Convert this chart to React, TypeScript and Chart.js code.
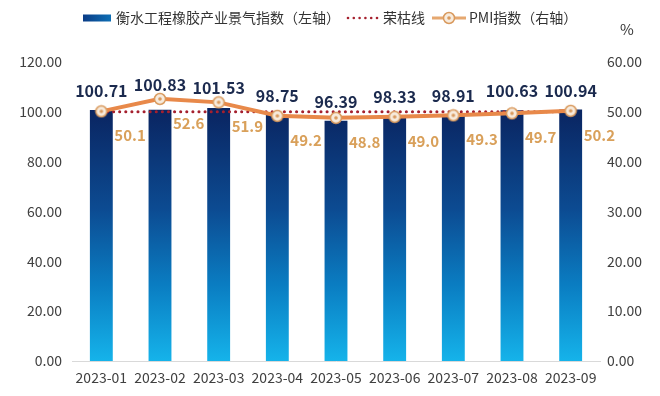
import React, { useEffect, useRef } from "react";
import { Chart, registerables } from "chart.js";

Chart.register(...registerables);

const categories = ["2023-01", "2023-02", "2023-03", "2023-04", "2023-05", "2023-06", "2023-07", "2023-08", "2023-09"];
const rubberIndex = [100.71, 100.83, 101.53, 98.75, 96.39, 98.33, 98.91, 100.63, 100.94];
const pmiIndex = [50.1, 52.6, 51.9, 49.2, 48.8, 49.0, 49.3, 49.7, 50.2];
const boomLine = [100, 100, 100, 100, 100, 100, 100, 100, 100];
const leftTicks = [0, 20, 40, 60, 80, 100, 120];
const rightTicks = [0, 10, 20, 30, 40, 50, 60];

const seriesNames = ["衡水工程橡胶产业景气指数（左轴）", "荣枯线", "PMI指数（右轴）"];
const unitLabel = "%";

const FONT = '"Noto Sans CJK SC", "Noto Sans", sans-serif';
const ORANGE = "#E8894A";
const LABEL_ORANGE = "#D9A05A";
const NAVY_TEXT = "#1B2A4E";
const DOT_RED = "#A5202E";
const TICK_COLOR = "#404040";

function makeMarker(): HTMLCanvasElement {
  const c = document.createElement("canvas");
  c.width = 14;
  c.height = 14;
  const g = c.getContext("2d")!;
  g.beginPath();
  g.arc(7, 7, 5.5, 0, Math.PI * 2);
  g.fillStyle = "#F7EBDD";
  g.fill();
  g.lineWidth = 1.5;
  g.strokeStyle = "#D99A5E";
  g.stroke();
  g.beginPath();
  g.arc(7, 7, 1.8, 0, Math.PI * 2);
  g.fillStyle = "#D99A5E";
  g.fill();
  return c;
}

function barGradient(ctx: CanvasRenderingContext2D, top: number, bottom: number) {
  const g = ctx.createLinearGradient(0, top, 0, bottom);
  g.addColorStop(0, "#0A2460");
  g.addColorStop(0.4, "#0C4B92");
  g.addColorStop(0.7, "#0A7DC2");
  g.addColorStop(1, "#15B3EA");
  return g;
}

const labelsPlugin = {
  id: "customLabels",
  afterDatasetsDraw(chart: any) {
    const ctx = chart.ctx;
    const barMeta = chart.getDatasetMeta(0);
    const pmiMeta = chart.getDatasetMeta(2);
    ctx.save();
    ctx.font = `bold 16px ${FONT}`;
    ctx.fillStyle = NAVY_TEXT;
    ctx.textAlign = "center";
    ctx.textBaseline = "middle";
    barMeta.data.forEach((el: any, i: number) => {
      const pt = pmiMeta.data[i];
      const yPos = Math.min(el.y - 19, pt.y - 14);
      ctx.fillText(rubberIndex[i].toFixed(2), el.x, yPos);
    });
    ctx.font = `bold 15px ${FONT}`;
    ctx.fillStyle = LABEL_ORANGE;
    ctx.textAlign = "left";
    pmiMeta.data.forEach((el: any, i: number) => {
      ctx.fillText(pmiIndex[i].toFixed(1), el.x + 13, el.y + 24);
    });
    ctx.restore();
  },
};

let marker: HTMLCanvasElement;

const legendPlugin = {
  id: "customLegend",
  afterDraw(chart: any) {
    const ctx = chart.ctx;
    ctx.save();
    const y = 18;
    const lg = ctx.createLinearGradient(83, 0, 111, 0);
    lg.addColorStop(0, "#0A3C86");
    lg.addColorStop(1, "#0E6FB5");
    ctx.fillStyle = lg;
    ctx.fillRect(83, y - 3.5, 28, 7);
    ctx.font = `14px ${FONT}`;
    ctx.fillStyle = "#333333";
    ctx.textBaseline = "middle";
    ctx.textAlign = "left";
    ctx.fillText(seriesNames[0], 116, y);
    ctx.fillStyle = DOT_RED;
    for (let k = 0; k < 6; k++) {
      ctx.beginPath();
      ctx.arc(348 + k * 5.8, y, 1.3, 0, Math.PI * 2);
      ctx.fill();
    }
    ctx.fillStyle = "#333333";
    ctx.fillText(seriesNames[1], 383, y);
    ctx.strokeStyle = "#E6A870";
    ctx.lineWidth = 3;
    ctx.beginPath();
    ctx.moveTo(432, y);
    ctx.lineTo(466, y);
    ctx.stroke();
    ctx.drawImage(marker, 449 - 7, y - 7);
    ctx.fillStyle = "#333333";
    ctx.fillText(seriesNames[2], 469, y);
    ctx.font = `15px ${FONT}`;
    ctx.textAlign = "center";
    ctx.fillText(unitLabel, 627, 29);
    ctx.restore();
  },
};

export default function App() {
  const ref = useRef<HTMLCanvasElement>(null);
  useEffect(() => {
    if (!ref.current) return;
    marker = makeMarker();
    const chart = new Chart(ref.current, {
      type: "bar",
      data: {
        labels: categories,
        datasets: [
          {
            type: "bar",
            label: seriesNames[0],
            data: rubberIndex,
            yAxisID: "y",
            order: 3,
            barPercentage: 0.39,
            categoryPercentage: 1,
            backgroundColor: (c: any) => {
              const ch = c.chart;
              const area = ch.chartArea;
              if (!area) return "#0A4B92";
              const ys = ch.scales.y;
              return barGradient(ch.ctx, ys.getPixelForValue(101.5), area.bottom);
            },
          },
          {
            type: "line",
            label: seriesNames[1],
            data: boomLine,
            yAxisID: "y",
            order: 2,
            borderColor: DOT_RED,
            borderWidth: 3,
            borderDash: [0.1, 6],
            borderCapStyle: "round",
            pointRadius: 0,
            fill: false,
          },
          {
            type: "line",
            label: seriesNames[2],
            data: pmiIndex,
            yAxisID: "y1",
            order: 1,
            borderColor: ORANGE,
            borderWidth: 4,
            tension: 0,
            pointStyle: marker as any,
            pointRadius: 6,
            fill: false,
          },
        ],
      },
      options: {
        animation: false,
        responsive: false,
        maintainAspectRatio: false,
        layout: { padding: { top: 62, bottom: 0, left: 0, right: 0 } },
        plugins: {
          legend: { display: false },
          tooltip: { enabled: false },
        },
        scales: {
          x: {
            grid: { display: false, drawTicks: false },
            border: { display: true, color: "#D9D9D9", width: 1 },
            ticks: { color: TICK_COLOR, font: { family: FONT, size: 14 }, padding: 8, maxRotation: 0, autoSkip: false },
            afterFit: (s: any) => { s.height = 35; },
          },
          y: {
            position: "left",
            min: 0,
            max: 120,
            afterBuildTicks: (s: any) => { s.ticks = leftTicks.map((v) => ({ value: v })); },
            grid: { display: false, drawTicks: false },
            border: { display: false },
            ticks: { color: TICK_COLOR, font: { family: FONT, size: 14 }, padding: 10, callback: (v: any) => Number(v).toFixed(2) },
            afterFit: (s: any) => { s.width = 72; },
          },
          y1: {
            position: "right",
            min: 0,
            max: 60,
            afterBuildTicks: (s: any) => { s.ticks = rightTicks.map((v) => ({ value: v })); },
            grid: { display: false, drawTicks: false },
            border: { display: false },
            ticks: { color: TICK_COLOR, font: { family: FONT, size: 14 }, padding: 7, callback: (v: any) => Number(v).toFixed(2) },
            afterFit: (s: any) => { s.width = 60; },
          },
        },
      },
      plugins: [labelsPlugin, legendPlugin],
    } as any);
    return () => chart.destroy();
  }, []);
  return (
    <div style={{ position: "fixed", left: 0, top: 0, width: 660, height: 396, background: "#fff" }}>
      <canvas ref={ref} width={660} height={396} style={{ width: 660, height: 396 }} />
    </div>
  );
}
